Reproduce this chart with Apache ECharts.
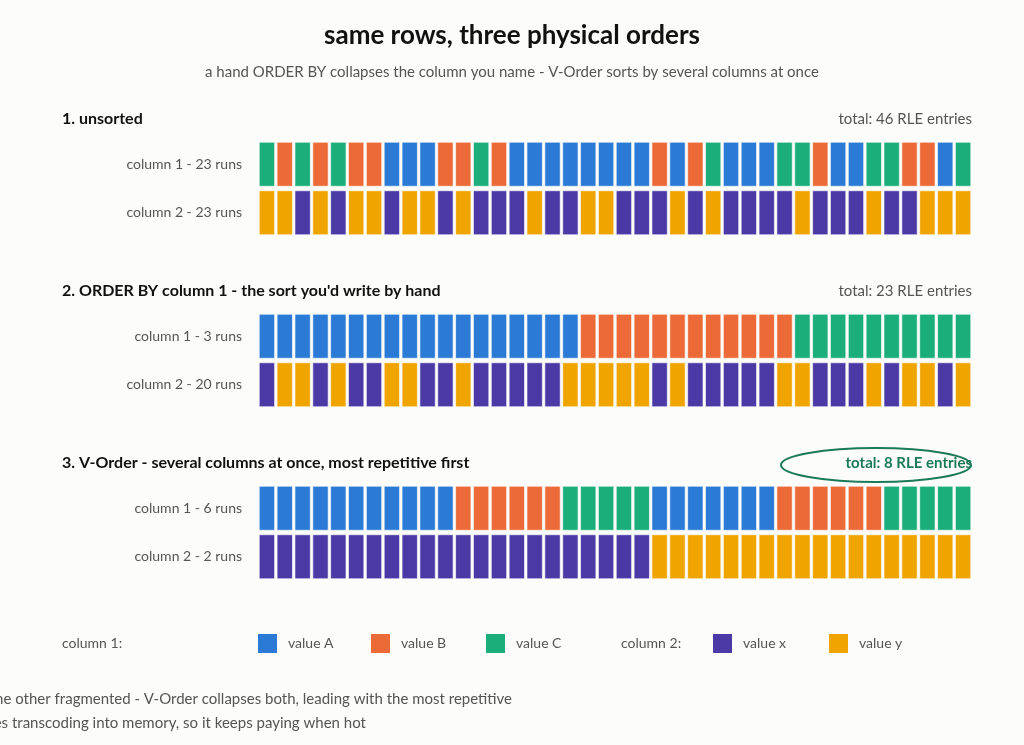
<!DOCTYPE html>
<html>
<head>
<meta charset="utf-8">
<script src="https://cdn.jsdelivr.net/npm/echarts@6/dist/echarts.min.js"></script>
<style>
  html, body { margin: 0; padding: 0; background: #fcfcfb; }
  #chart { width: 1024px; height: 745px; }
</style>
</head>
<body>
<div id="chart"></div>
<script>
// cell sequences, one letter per row of the table (40 rows)
var unsorted1 = 'CBCBCBBAAABBCBAAAAAAAABABCAAACCBAACCBBAC'.split('');
var unsorted2 = 'yyxyxyyxyyxyxxxyxxyyxxxyxyxxxxyxxxyxxyyy'.split('');
var orderBy1 = 'AAAAAAAAAAAAAAAAAABBBBBBBBBBBBCCCCCCCCCC'.split('');
var orderBy2 = 'xyyxyxxyyxxyxxxxxyyyyyxyxxxxxyyxxxyxyyxy'.split('');
var vorder1 = 'AAAAAAAAAAABBBBBBCCCCCAAAAAAABBBBBBCCCCC'.split('');
var vorder2 = 'xxxxxxxxxxxxxxxxxxxxxxyyyyyyyyyyyyyyyyyy'.split('');

var blockTitles = ['1. unsorted', "2. ORDER BY column 1 - the sort you'd write by hand", '3. V-Order - several columns at once, most repetitive first'];
var blockTotals = ['total: 46 RLE entries', 'total: 23 RLE entries', 'total: 8 RLE entries'];
var rowLabels = [
    ['column 1 - 23 runs', 'column 2 - 23 runs'],
    ['column 1 - 3 runs', 'column 2 - 20 runs'],
    ['column 1 - 6 runs', 'column 2 - 2 runs']
];
var blockData = [[unsorted1, unsorted2], [orderBy1, orderBy2], [vorder1, vorder2]];

var colors = { A: '#2a7ad6', B: '#ec6a37', C: '#1bae7b', x: '#4b3aa6', y: '#f0a400' };
var legendItems = [['A', 'value A', 258], ['B', 'value B', 371], ['C', 'value C', 486], ['x', 'value x', 713], ['y', 'value y', 829]];

var font = 'Lato';
var cells = [];
for (var i = 0; i < 40; i++) cells.push(i);

var grids = [], xAxes = [], yAxes = [], series = [], graphics = [];
var tops = [140, 312, 484];

tops.forEach(function (top, b) {
    grids.push({ left: 258, right: 52, top: top, height: 97 });
    xAxes.push({ type: 'category', gridIndex: b, data: cells, show: false });
    yAxes.push({
        type: 'category', gridIndex: b, data: rowLabels[b], inverse: true,
        axisLine: { show: false }, axisTick: { show: false },
        axisLabel: { color: '#555', fontFamily: font, fontSize: 14, margin: 16 }
    });
    var data = [];
    blockData[b].forEach(function (row, r) {
        row.forEach(function (v, c) { data.push([c, r, v]); });
    });
    series.push({
        type: 'custom', xAxisIndex: b, yAxisIndex: b, data: data,
        renderItem: function (params, api) {
            var p = api.coord([api.value(0), api.value(1)]);
            var w = api.size([1, 1]);
            var cw = w[0] * 0.86, ch = 44;
            return {
                type: 'rect',
                shape: { x: p[0] - cw / 2, y: p[1] - ch / 2, width: cw, height: ch },
                style: { fill: colors[data[params.dataIndex][2]], stroke: 'rgba(255,255,255,0.6)', lineWidth: 1 }
            };
        }
    });
    graphics.push({ type: 'text', left: 62, top: top - 29, style: { text: blockTitles[b], font: 'bold 16px ' + font, fill: '#111' } });
    graphics.push({ type: 'text', right: 52, top: top - 28, style: { text: blockTotals[b], font: (b === 2 ? 'bold ' : '') + '15px ' + font, fill: b === 2 ? '#1b7a58' : '#555' } });
});

graphics.push({ type: 'ellipse', shape: { cx: 876, cy: 465, rx: 95, ry: 17 }, style: { fill: 'none', stroke: '#1b7a58', lineWidth: 2 } });

graphics.push({ type: 'text', left: 62, top: 636, style: { text: 'column 1:', font: '14px ' + font, fill: '#555' } });
graphics.push({ type: 'text', left: 621, top: 636, style: { text: 'column 2:', font: '14px ' + font, fill: '#555' } });
legendItems.forEach(function (it) {
    graphics.push({ type: 'rect', shape: { x: it[2], y: 634, width: 19, height: 19 }, style: { fill: colors[it[0]] } });
    graphics.push({ type: 'text', left: it[2] + 30, top: 636, style: { text: it[1], font: '14px ' + font, fill: '#555' } });
});

var option = {
    backgroundColor: '#fcfcfb',
    animation: false,
    title: [{
        text: 'same rows, three physical orders', left: 'center', top: 18,
        textStyle: { fontFamily: font, fontSize: 26, fontWeight: 'bold', color: '#111' }
    }, {
        text: 'a hand ORDER BY collapses the column you name - V-Order sorts by several columns at once', left: 'center', top: 60,
        textStyle: { fontFamily: font, fontSize: 15, fontWeight: 'normal', color: '#555' }
    }, {
        text: 'the hand sort helped one column and left the other fragmented - V-Order collapses both, leading with the most repetitive\nand the order survives transcoding into memory, so it keeps paying when hot',
        left: 'center', top: 682, textAlign: 'center',
        textStyle: { fontFamily: font, fontSize: 15, fontWeight: 'normal', color: '#555', lineHeight: 24, align: 'center' }
    }],
    grid: grids,
    xAxis: xAxes,
    yAxis: yAxes,
    series: series,
    graphic: graphics
};

echarts.init(document.getElementById('chart')).setOption(option);
</script>
</body>
</html>
